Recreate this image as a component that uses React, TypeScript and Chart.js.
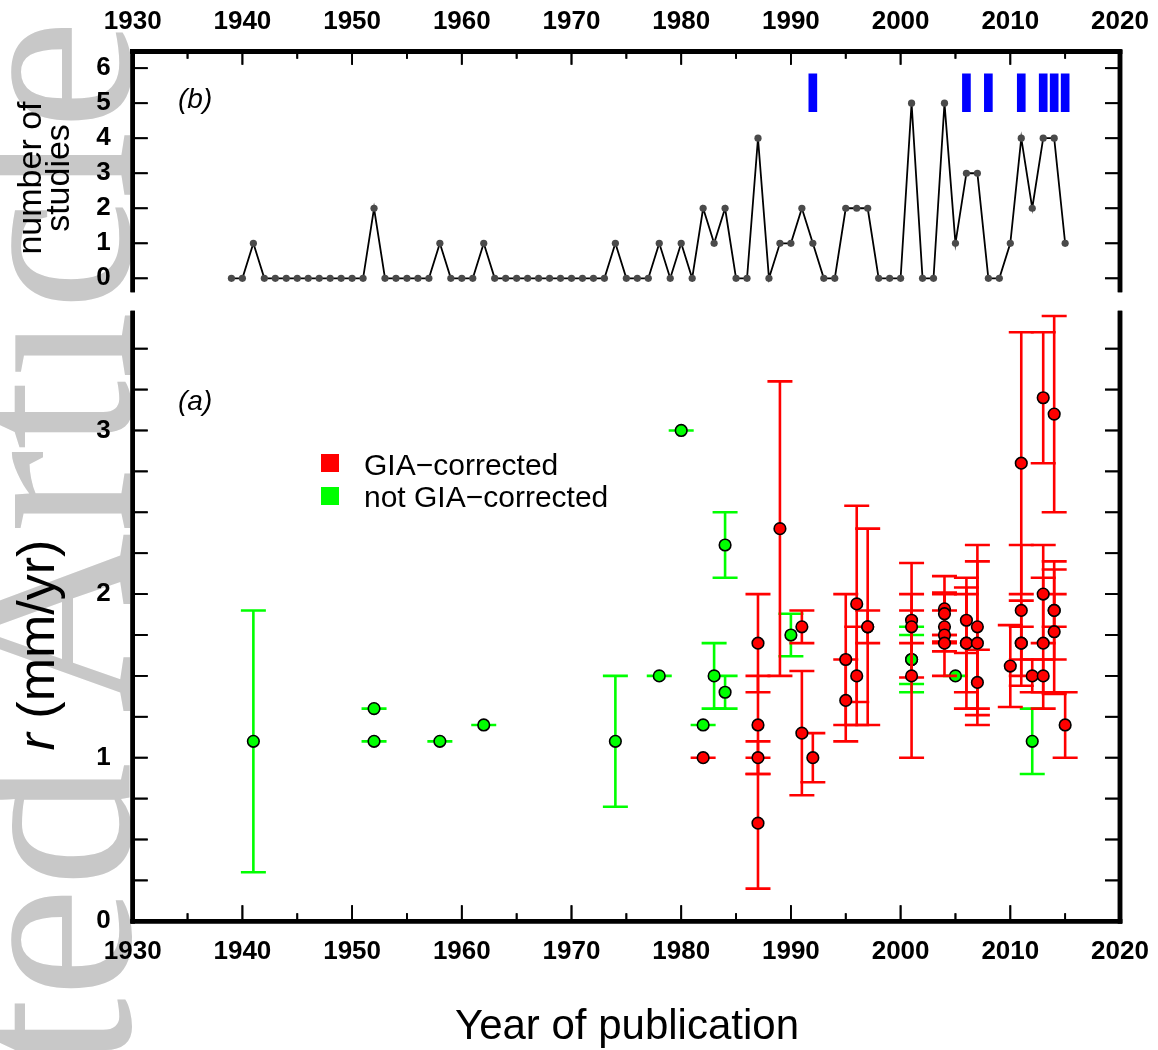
import React, { useEffect, useRef } from "react";
import { Chart, registerables } from "chart.js";

Chart.register(...registerables);

const FONT = "'Liberation Sans', Arial, Helvetica, sans-serif";

// ---- panel (b): number of studies per year ----
const studyYears = [
  1939, 1940, 1941, 1942, 1943, 1944, 1945, 1946, 1947, 1948, 1949, 1950, 1951, 1952, 1953, 1954,
  1955, 1956, 1957, 1958, 1959, 1960, 1961, 1962, 1963, 1964, 1965, 1966, 1967, 1968, 1969, 1970,
  1971, 1972, 1973, 1974, 1975, 1976, 1977, 1978, 1979, 1980, 1981, 1982, 1983, 1984, 1985, 1986,
  1987, 1988, 1989, 1990, 1991, 1992, 1993, 1994, 1995, 1996, 1997, 1998, 1999, 2000, 2001, 2002,
  2003, 2004, 2005, 2006, 2007, 2008, 2009, 2010, 2011, 2012, 2013, 2014, 2015,
];
const studyCounts = [
  0, 0, 1, 0, 0, 0, 0, 0, 0, 0, 0, 0, 0, 2, 0, 0,
  0, 0, 0, 1, 0, 0, 0, 1, 0, 0, 0, 0, 0, 0, 0, 0,
  0, 0, 0, 1, 0, 0, 0, 1, 0, 1, 0, 2, 1, 2, 0, 0,
  4, 0, 1, 1, 2, 1, 0, 0, 2, 2, 2, 0, 0, 0, 5, 0,
  0, 5, 1, 3, 3, 0, 0, 1, 4, 2, 4, 4, 1,
];
const markerYears = [1992, 2006, 2008, 2011, 2013, 2014, 2015];
const markerLow = 4.76;
const markerHigh = 5.84;

// ---- panel (a): rates, GIA-corrected ----
const giaYears = [
  1982, 1987, 1987, 1987, 1987, 1989, 1991, 1991, 1992, 1995, 1995, 1996, 1996, 1997, 1997,
  2001, 2001, 2001, 2004, 2004, 2004, 2004, 2004, 2006, 2006, 2006, 2007, 2007, 2007, 2010,
  2011, 2011, 2011, 2011, 2012, 2013, 2013, 2013, 2013, 2014, 2014, 2014, 2014, 2015,
];
const giaRates = [
  1.0, 1.7, 1.2, 1.0, 0.6, 2.4, 1.8, 1.15, 1.0, 1.6, 1.35, 1.94, 1.5, 1.8, 1.8,
  1.84, 1.8, 1.5, 1.91, 1.88, 1.8, 1.75, 1.7, 1.84, 1.7, 1.7, 1.8, 1.7, 1.46, 1.56,
  2.8, 1.9, 1.7, 1.7, 1.5, 3.2, 2.0, 1.7, 1.5, 3.1, 1.9, 1.77, 1.9, 1.2,
];
const giaLow = [
  1.0, 1.4, 0.9, 0.9, 0.2, 1.5, 1.7, 0.77, 0.85, 1.2, 1.1, 1.34, 1.2, 1.2, 1.7,
  1.49, 1.7, 1.0, 1.71, 1.75, 1.7, 1.5, 1.65, 1.64, 1.3, 1.4, 1.3, 1.2, 1.26, 1.31,
  2.0, 1.5, 1.44, 1.6, 1.4, 2.8, 1.7, 1.3, 1.4, 2.5, 1.6, 1.39, 1.8, 1.0,
];
const giaHigh = [
  1.0, 2.0, 1.5, 1.1, 1.0, 3.3, 1.9, 1.53, 1.15, 2.0, 1.6, 2.54, 1.8, 2.4, 1.9,
  2.19, 1.9, 2.0, 2.11, 2.01, 1.9, 2.0, 1.75, 2.04, 2.1, 2.0, 2.3, 2.2, 1.66, 1.81,
  3.6, 2.3, 1.96, 1.8, 1.6, 3.6, 2.3, 2.1, 1.6, 3.7, 2.2, 2.15, 2.0, 1.4,
];

// ---- panel (a): rates, not GIA-corrected ----
const rawYears = [1941, 1952, 1952, 1958, 1962, 1974, 1978, 1980, 1982, 1983, 1984, 1984, 1990, 2001, 2001, 2005, 2012];
const rawRates = [1.1, 1.3, 1.1, 1.1, 1.2, 1.1, 1.5, 3.0, 1.2, 1.5, 2.3, 1.4, 1.75, 1.6, 1.6, 1.5, 1.1];
const rawLow = [0.3, 1.3, 1.1, 1.1, 1.2, 0.7, 1.5, 3.0, 1.2, 1.3, 2.1, 1.3, 1.62, 1.45, 1.4, 1.5, 0.9];
const rawHigh = [1.9, 1.3, 1.1, 1.1, 1.2, 1.5, 1.5, 3.0, 1.2, 1.7, 2.5, 1.5, 1.88, 1.75, 1.8, 1.5, 1.3];

const xMin = 1930;
const xMax = 2020;

type FrameCfg = { xMinorStep: number; xMajorStep: number; xMajorLen: number; xMinorLen: number; yStep: number; yLen: number };

function drawFrame(chart: any, cfg: FrameCfg) {
  const { ctx, chartArea: a, scales } = chart;
  const xs = scales.x;
  const ys = scales.y;
  const onTop = xs.position === "top";
  const xEdge = onTop ? a.top : a.bottom;
  const dir = onTop ? 1 : -1;
  ctx.save();
  ctx.strokeStyle = "#000000";
  const seg = (x1: number, y1: number, x2: number, y2: number) => {
    ctx.beginPath();
    ctx.moveTo(x1, y1);
    ctx.lineTo(x2, y2);
    ctx.stroke();
  };
  ctx.lineWidth = 4.5;
  ctx.lineCap = "square";
  seg(a.left, xEdge, a.right, xEdge);
  seg(a.left, a.top, a.left, a.bottom);
  seg(a.right, a.top, a.right, a.bottom);
  ctx.lineCap = "butt";
  ctx.lineWidth = 1.8;
  for (let v = xs.min; v <= xs.max + 1e-6; v += cfg.xMinorStep) {
    const px = xs.getPixelForValue(v);
    const r = v / cfg.xMajorStep;
    const major = Math.abs(r - Math.round(r)) < 1e-6;
    const len = major ? cfg.xMajorLen : cfg.xMinorLen;
    seg(px, xEdge, px, xEdge + dir * len);
  }
  for (let v = Math.ceil(ys.min / cfg.yStep - 1e-6) * cfg.yStep; v <= ys.max + 1e-6; v += cfg.yStep) {
    const py = ys.getPixelForValue(v);
    seg(a.left, py, a.left + cfg.yLen, py);
    seg(a.right, py, a.right - cfg.yLen, py);
  }
  ctx.restore();
}

function makeFramePlugin(cfg: FrameCfg) {
  return {
    id: "frame",
    afterDatasetsDraw(chart: any) {
      drawFrame(chart, cfg);
    },
    afterDraw(chart: any) {
      drawFrame(chart, cfg);
    },
  };
}

const errorBarPlugin = {
  id: "errorBars",
  beforeDatasetDraw(chart: any, args: any) {
    const ds: any = chart.data.datasets[args.index];
    if (!ds.errLow) return;
    const { ctx, scales } = chart;
    const xs = scales.x;
    const ys = scales.y;
    ctx.save();
    ctx.strokeStyle = ds.errColor;
    ctx.lineWidth = 2.6;
    ds.data.forEach((p: any, i: number) => {
      const px = xs.getPixelForValue(p.x);
      const pl = ys.getPixelForValue(ds.errLow[i]);
      const ph = ys.getPixelForValue(ds.errHigh[i]);
      ctx.beginPath();
      ctx.moveTo(px, pl);
      ctx.lineTo(px, ph);
      ctx.moveTo(px - 12.5, pl);
      ctx.lineTo(px + 12.5, pl);
      ctx.moveTo(px - 12.5, ph);
      ctx.lineTo(px + 12.5, ph);
      ctx.stroke();
    });
    ctx.restore();
  },
};

const tickFont = { family: FONT, size: 26, weight: "bold" as const };
const noGrid = { display: false, drawTicks: false, tickLength: 0 };
const zeroPad = (s: any) => {
  s.paddingTop = 0;
  s.paddingBottom = 0;
  s.paddingLeft = 0;
  s.paddingRight = 0;
};

export default function App() {
  const topRef = useRef<HTMLCanvasElement>(null);
  const botRef = useRef<HTMLCanvasElement>(null);

  useEffect(() => {
    const topChart = new Chart(topRef.current as HTMLCanvasElement, {
      type: "scatter",
      data: {
        datasets: [
          {
            type: "bar",
            data: markerYears.map((yr) => ({ x: yr, y: [markerLow, markerHigh] })) as any,
            backgroundColor: "#0000ff",
            borderWidth: 0,
            barThickness: 8,
            grouped: false,
          } as any,
          {
            type: "scatter",
            data: studyYears.map((yr, i) => ({ x: yr, y: studyCounts[i] })),
            showLine: true,
            borderColor: "#000",
            borderWidth: 1.8,
            pointRadius: 3.6,
            pointBackgroundColor: "#4a4a4a",
            pointBorderWidth: 0,
          } as any,
        ],
      },
      options: {
        responsive: false,
        animation: false,
        events: [],
        layout: { autoPadding: false, padding: { top: 0, left: 0, right: 38, bottom: 10 } },
        plugins: {
          legend: { display: false },
          tooltip: { enabled: false },
        },
        scales: {
          x: {
            type: "linear",
            position: "top",
            offset: false,
            min: xMin,
            max: xMax,
            grid: noGrid,
            border: { display: true, width: 4.5, color: "#000" },
            ticks: { stepSize: 10, font: tickFont, color: "#000", padding: 14, maxRotation: 0, autoSkip: false, includeBounds: false, callback: (v: any) => String(v) },
            afterFit: (s: any) => { s.height = 51.7; zeroPad(s); },
          },
          y: {
            type: "linear",
            min: -0.334,
            max: 6.47,
            grid: noGrid,
            border: { display: false },
            ticks: { stepSize: 1, font: tickFont, color: "#000", padding: 22, includeBounds: false },
            afterFit: (s: any) => { s.width = 132.7; zeroPad(s); },
          },
        },
      } as any,
      plugins: [makeFramePlugin({ xMinorStep: 5, xMajorStep: 10, xMajorLen: 13, xMinorLen: 7, yStep: 1, yLen: 15 })],
    });

    const botChart = new Chart(botRef.current as HTMLCanvasElement, {
      type: "scatter",
      data: {
        datasets: [
          {
            label: "GIA\u2212corrected",
            data: giaYears.map((yr, i) => ({ x: yr, y: giaRates[i] })),
            errLow: giaLow,
            errHigh: giaHigh,
            errColor: "#ff0000",
            pointRadius: 5.8,
            pointBackgroundColor: "#ff0000",
            pointBorderColor: "#000",
            pointBorderWidth: 1.6,
          } as any,
          {
            label: "not GIA\u2212corrected",
            data: rawYears.map((yr, i) => ({ x: yr, y: rawRates[i] })),
            errLow: rawLow,
            errHigh: rawHigh,
            errColor: "#00ff00",
            pointRadius: 5.8,
            pointBackgroundColor: "#00ff00",
            pointBorderColor: "#000",
            pointBorderWidth: 1.6,
          } as any,
        ],
      },
      options: {
        responsive: false,
        animation: false,
        events: [],
        layout: { autoPadding: false, padding: { top: 13, left: 0, right: 38, bottom: 0 } },
        plugins: {
          legend: { display: false },
          tooltip: { enabled: false },
        },
        scales: {
          x: {
            type: "linear",
            position: "bottom",
            offset: false,
            min: xMin,
            max: xMax,
            grid: noGrid,
            border: { display: false },
            ticks: { stepSize: 10, font: tickFont, color: "#000", padding: 15, maxRotation: 0, autoSkip: false, includeBounds: false, callback: (v: any) => String(v) },
            afterFit: (s: any) => { s.height = 128.7; zeroPad(s); },
          },
          y: {
            type: "linear",
            min: 0,
            max: 3.718,
            grid: noGrid,
            border: { display: false },
            ticks: { stepSize: 1, font: tickFont, color: "#000", padding: 22, includeBounds: false },
            afterFit: (s: any) => { s.width = 132.7; zeroPad(s); },
          },
        },
      } as any,
      plugins: [errorBarPlugin, makeFramePlugin({ xMinorStep: 5, xMajorStep: 10, xMajorLen: 16, xMinorLen: 8, yStep: 0.25, yLen: 15 })],
    });

    return () => {
      topChart.destroy();
      botChart.destroy();
    };
  }, []);

  const abs: React.CSSProperties = { position: "absolute", whiteSpace: "nowrap", lineHeight: 1, color: "#000" };

  return (
    <div style={{ position: "absolute", left: 0, top: 0, width: 1158, height: 1050, overflow: "hidden", background: "#fff", fontFamily: FONT }}>
      <div
        style={{
          ...abs,
          left: -79,
          top: 1706,
          fontFamily: "'Liberation Serif', 'DejaVu Serif', serif",
          fontSize: 250,
          color: "#c8c8c8",
          transform: "rotate(-90deg)",
          transformOrigin: "0 0",
        }}
      >
        Accepted Article
      </div>
      <canvas ref={topRef} width={1158} height={300} style={{ position: "absolute", left: 0, top: 0, width: 1158, height: 300 }} />
      <canvas ref={botRef} width={1158} height={750} style={{ position: "absolute", left: 0, top: 300, width: 1158, height: 750 }} />

      <div style={{ ...abs, left: 178, top: 85, fontSize: 28, fontStyle: "italic" }}>(b)</div>
      <div style={{ ...abs, left: 178, top: 387, fontSize: 28, fontStyle: "italic" }}>(a)</div>

      <div style={{ position: "absolute", left: 321, top: 454, width: 18, height: 18, background: "#ff0000" }} />
      <div style={{ ...abs, left: 364, top: 449.6, fontSize: 30 }}>GIA{"\u2212"}corrected</div>
      <div style={{ position: "absolute", left: 321, top: 487, width: 18, height: 18, background: "#00ff00" }} />
      <div style={{ ...abs, left: 364, top: 481.6, fontSize: 30 }}>not GIA{"\u2212"}corrected</div>

      <div
        style={{
          ...abs,
          left: 43.2 - 150,
          top: 178 - 28,
          width: 300,
          height: 56,
          fontSize: 34,
          lineHeight: "28px",
          textAlign: "center",
          transform: "rotate(-90deg)",
        }}
      >
        number of
        <br />
        studies
      </div>

      <div
        style={{
          ...abs,
          left: 36 - 200,
          top: 645 - 26,
          width: 400,
          height: 52,
          fontSize: 52,
          textAlign: "center",
          transform: "rotate(-90deg)",
        }}
      >
        <span style={{ fontStyle: "italic" }}>r</span> (mm/yr)
      </div>

      <div style={{ ...abs, left: 327, top: 1004.4, width: 600, fontSize: 42, textAlign: "center" }}>Year of publication</div>
    </div>
  );
}
